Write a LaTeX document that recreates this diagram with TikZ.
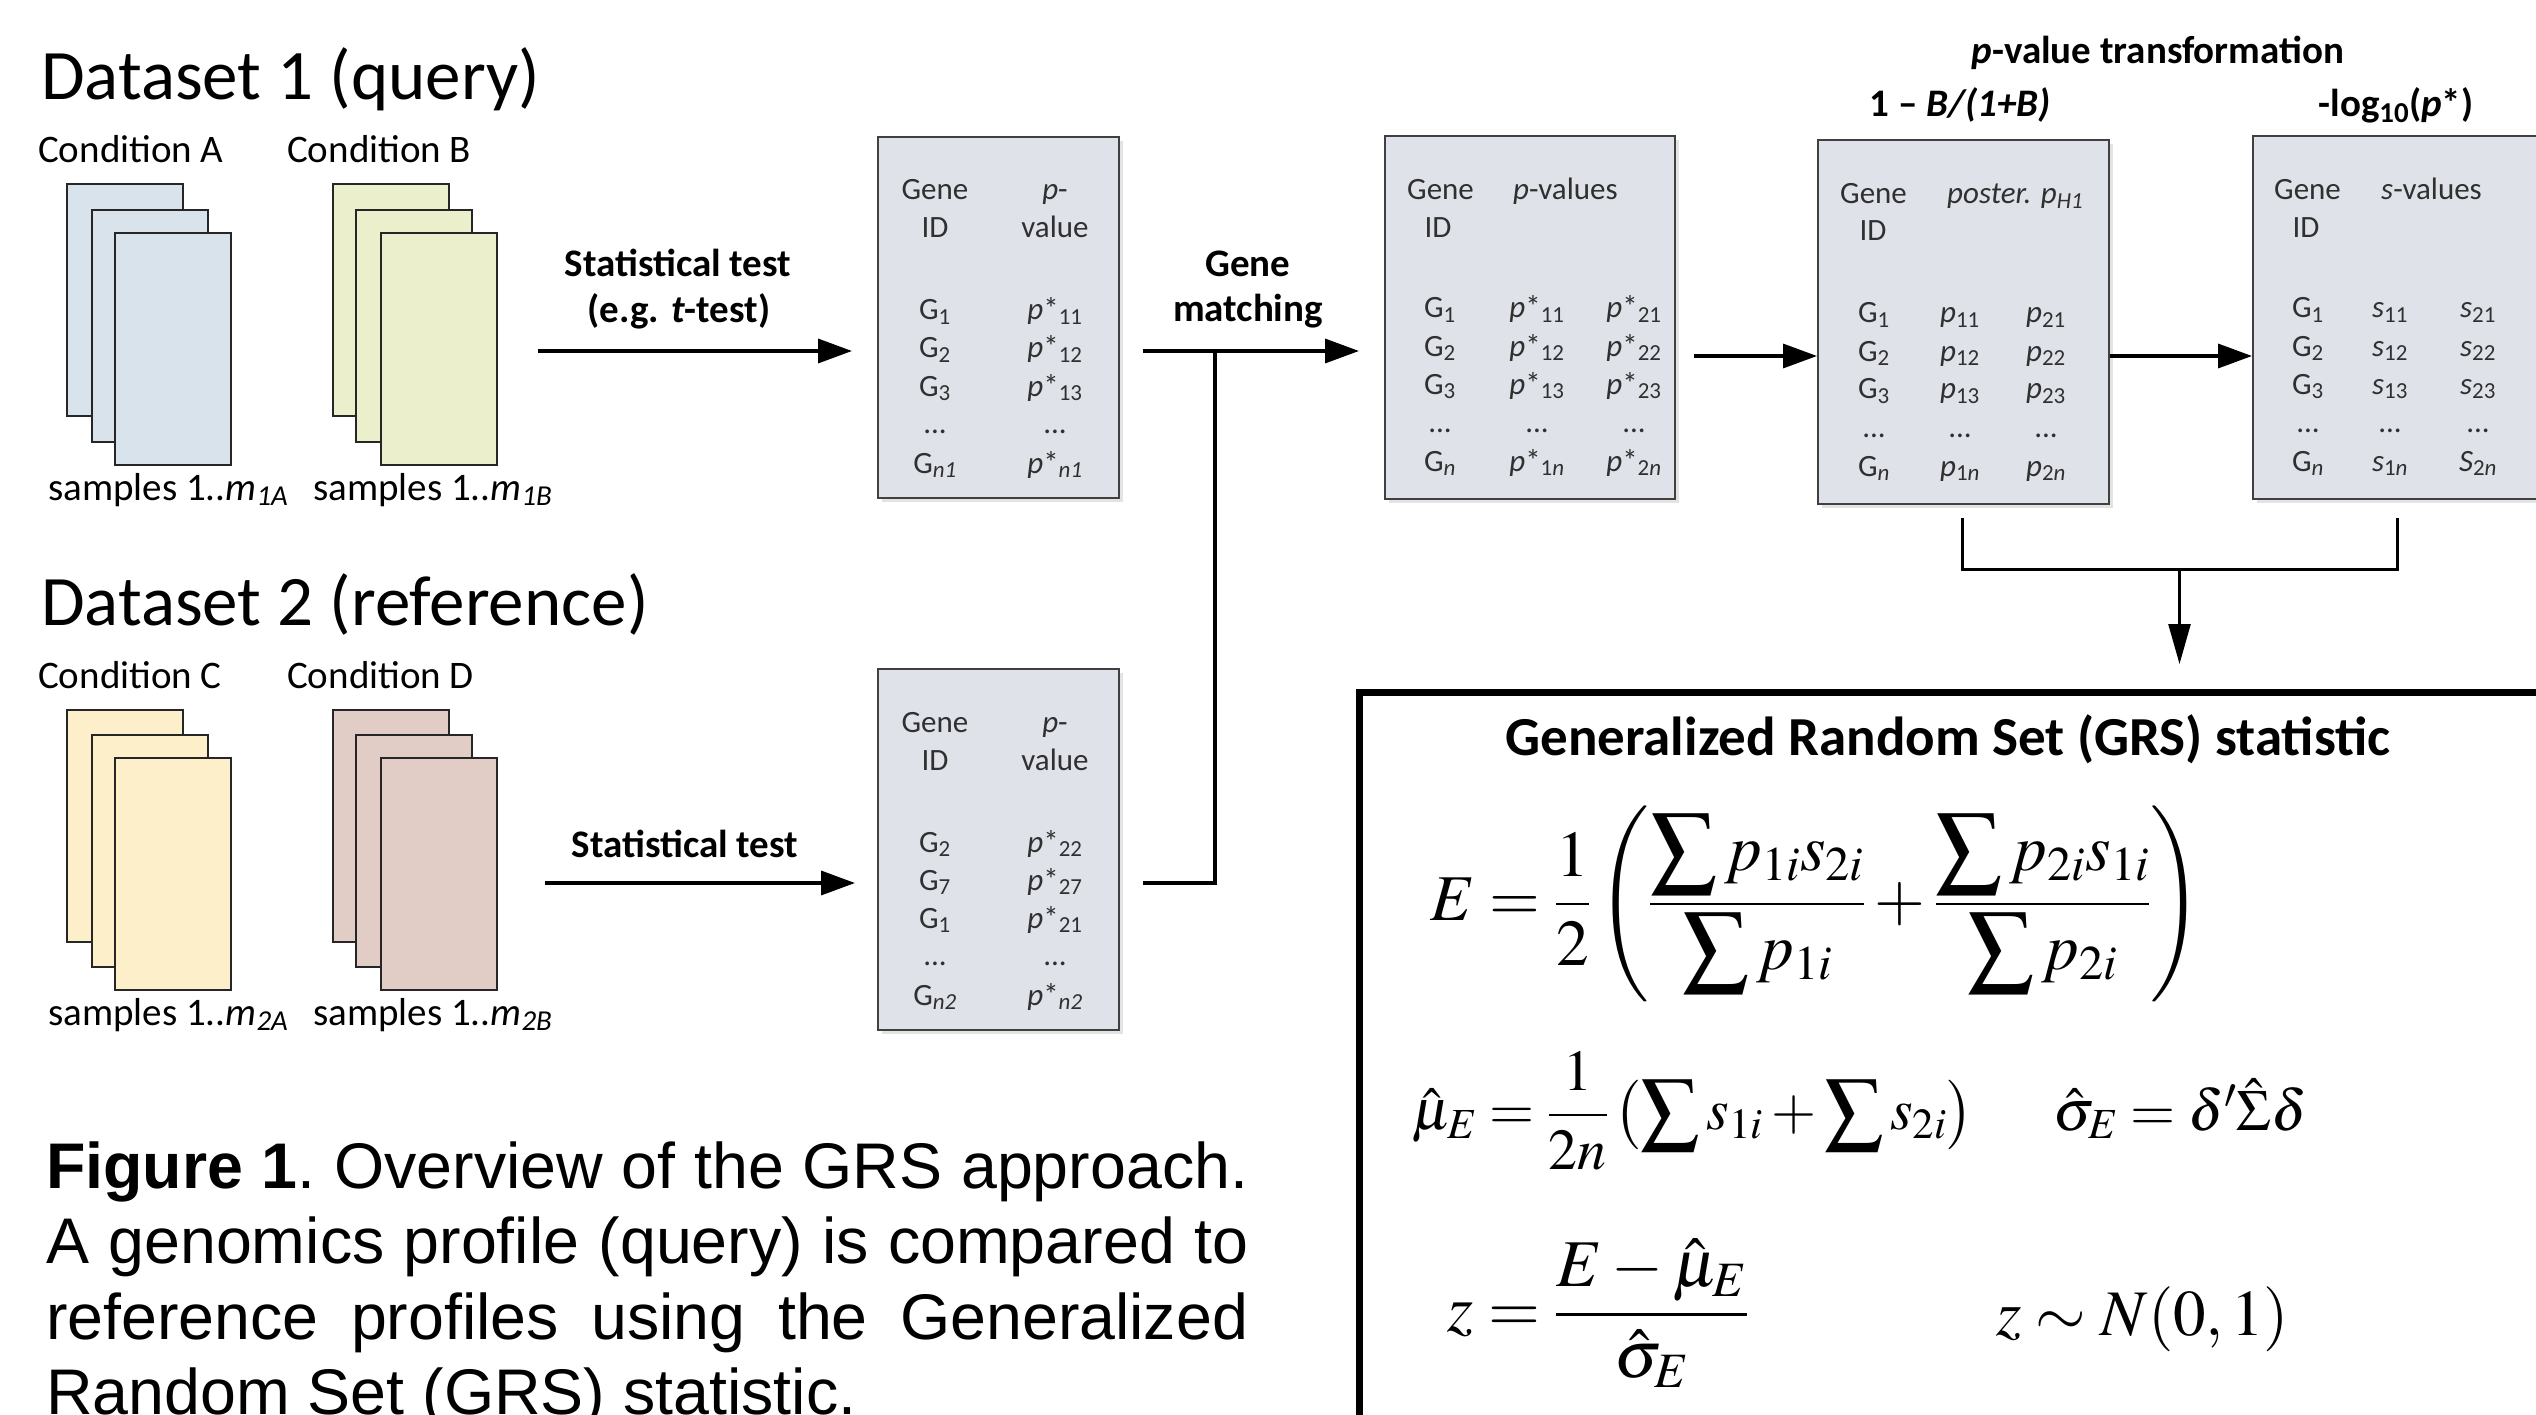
\documentclass[tikz,border=0pt]{standalone}
\usepackage{mathptmx}
\usepackage[no-math]{fontspec}
\setmainfont{Carlito}
\newfontfamily\capfont{Liberation Sans}
\usepackage{graphicx}
\usetikzlibrary{arrows.meta,shadows}

\definecolor{sheetA}{HTML}{D9E3EC}
\definecolor{sheetB}{HTML}{ECEFCB}
\definecolor{sheetC}{HTML}{FEEFCB}
\definecolor{sheetD}{HTML}{E2CDC6}
\definecolor{tblfill}{HTML}{DFE2E9}
\definecolor{tbltext}{HTML}{303030}

\newcommand{\fsz}[1]{\fontsize{#1}{#1}\selectfont}
\newcommand{\rowdots}{...}
\newcommand{\dsum}{\displaystyle\sum}

\tikzset{
  sheet/.style={draw=black!85, line width=2pt, anchor=north west, inner sep=0pt,
    minimum width=116pt, minimum height=232pt},
  tbl/.style={draw=black!75, line width=2pt, fill=tblfill, anchor=north west, inner sep=0pt,
    drop shadow={shadow xshift=4pt, shadow yshift=-4pt, opacity=0.22}},
  head/.style={anchor=base west, inner sep=0pt, font=\fsz{71}},
  cond/.style={anchor=base west, inner sep=0pt, font=\fsz{39}},
  lbl/.style={anchor=base, inner sep=0pt, font=\bfseries\fsz{39}},
  cell/.style={anchor=base, inner sep=0pt, text=tbltext, font=\fsz{31}},
  cellw/.style={cell, anchor=base west},
  flow/.style={line width=3.5pt, -{Triangle[length=34pt,width=24pt]}},
  link/.style={line width=3.5pt},
  brk/.style={line width=3pt},
  down/.style={line width=2.5pt, -{Triangle[length=40pt,width=22pt]}},
}

\begin{document}
\begin{tikzpicture}[x=1pt, y=-1pt]
\useasboundingbox (0,0) rectangle (2536,1415);

% ---------- Dataset 1 ----------
\node[head] (ds1) at (41,100) {Dataset 1 (query)};
\node[cond] (cA) at (38,163) {Condition A};
\node[cond] (cB) at (287,163) {Condition B};
\node[sheet, fill=sheetA] (A1) at (66,183) {};
\node[sheet, fill=sheetA] (A2) at (91,209) {};
\node[sheet, fill=sheetA] (A3) at (114,232) {};
\node[sheet, fill=sheetB] (B1) at (332,183) {};
\node[sheet, fill=sheetB] (B2) at (355,209) {};
\node[sheet, fill=sheetB] (B3) at (380,232) {};
\node[cond] (sA) at (48,500) {samples 1..\textit{m}\textsubscript{\textit{1A}}};
\node[cond] (sB) at (313,500) {samples 1..\textit{m}\textsubscript{\textit{1B}}};
\node[lbl] (st1) at (678,277) {Statistical test};
\node[lbl] (st1b) at (679,323) {(e.g. \textit{t}-test)};

% ---------- Dataset 2 ----------
\node[head] (ds2) at (41,625) {Dataset 2 (reference)};
\node[cond] (cC) at (38,688) {Condition C};
\node[cond] (cD) at (287,688) {Condition D};
\node[sheet, fill=sheetC] (C1) at (66,709) {};
\node[sheet, fill=sheetC] (C2) at (91,734) {};
\node[sheet, fill=sheetC] (C3) at (114,757) {};
\node[sheet, fill=sheetD] (D1) at (332,709) {};
\node[sheet, fill=sheetD] (D2) at (355,734) {};
\node[sheet, fill=sheetD] (D3) at (380,757) {};
\node[cond] (sC) at (48,1025) {samples 1..\textit{m}\textsubscript{\textit{2A}}};
\node[cond] (sD) at (313,1025) {samples 1..\textit{m}\textsubscript{\textit{2B}}};
\node[lbl] (st2) at (685,857) {Statistical test};

% ---------- tables ----------
\node[tbl, minimum width=241pt, minimum height=361pt] (T1) at (877,136) {};
\node[tbl, minimum width=241pt, minimum height=361pt] (T5) at (877,668) {};
\node[tbl, minimum width=290pt, minimum height=363pt] (T2) at (1384,135) {};
\node[tbl, minimum width=291pt, minimum height=364pt] (T3) at (1817,139) {};
\node[tbl, minimum width=292pt, minimum height=363pt] (T4) at (2252,135) {};

% query p-values
\node[cell] (t1h1) at (935,200) {Gene};
\node[cell] (t1h2) at (935,238) {ID};
\node[cell] (t1h3) at (1055,200) {\textit{p}-};
\node[cell] (t1h4) at (1055,238) {value};
\foreach \y/\g/\p [count=\i] in {320/G\textsubscript{1}/\textit{p}*\textsubscript{11},
    358/G\textsubscript{2}/\textit{p}*\textsubscript{12},
    396/G\textsubscript{3}/\textit{p}*\textsubscript{13},
    433/\rowdots/\rowdots,
    473/G\textsubscript{\textit{n1}}/\textit{p}*\textsubscript{\textit{n1}}}{
  \node[cell] (t1g\i) at (935,\y) {\g};
  \node[cell] (t1p\i) at (1055,\y) {\p};
}

% reference p-values
\node[cell] (t5h1) at (935,732) {Gene};
\node[cell] (t5h2) at (935,770) {ID};
\node[cell] (t5h3) at (1055,732) {\textit{p}-};
\node[cell] (t5h4) at (1055,770) {value};
\foreach \y/\g/\p [count=\i] in {852/G\textsubscript{2}/\textit{p}*\textsubscript{22},
    890/G\textsubscript{7}/\textit{p}*\textsubscript{27},
    928/G\textsubscript{1}/\textit{p}*\textsubscript{21},
    965/\rowdots/\rowdots,
    1005/G\textsubscript{\textit{n2}}/\textit{p}*\textsubscript{\textit{n2}}}{
  \node[cell] (t5g\i) at (935,\y) {\g};
  \node[cell] (t5p\i) at (1055,\y) {\p};
}

% matched p-values
\node[cellw] (t2h1) at (1407,200) {Gene};
\node[cell] (t2h2) at (1438,238) {ID};
\node[cellw] (t2h3) at (1513,200) {\textit{p}-values};
\foreach \y/\g/\p/\q [count=\i] in {318/G\textsubscript{1}/\textit{p}*\textsubscript{11}/\textit{p}*\textsubscript{21},
    356/G\textsubscript{2}/\textit{p}*\textsubscript{12}/\textit{p}*\textsubscript{22},
    394/G\textsubscript{3}/\textit{p}*\textsubscript{13}/\textit{p}*\textsubscript{23},
    432/\rowdots/\rowdots/\rowdots,
    471/G\textsubscript{\textit{n}}/\textit{p}*\textsubscript{1\textit{n}}/\textit{p}*\textsubscript{2\textit{n}}}{
  \node[cell] (t2g\i) at (1440,\y) {\g};
  \node[cell] (t2p\i) at (1537,\y) {\p};
  \node[cell] (t2q\i) at (1634,\y) {\q};
}

% posterior probabilities
\node[cellw] (t3h1) at (1840,204) {Gene};
\node[cell] (t3h2) at (1873,241) {ID};
\node[cellw] (t3h3) at (1947,204) {\textit{poster. p}\textsubscript{\textit{H1}}};
\foreach \y/\g/\p/\q [count=\i] in {323/G\textsubscript{1}/\textit{p}\textsubscript{11}/\textit{p}\textsubscript{21},
    361/G\textsubscript{2}/\textit{p}\textsubscript{12}/\textit{p}\textsubscript{22},
    399/G\textsubscript{3}/\textit{p}\textsubscript{13}/\textit{p}\textsubscript{23},
    437/\rowdots/\rowdots/\rowdots,
    476/G\textsubscript{\textit{n}}/\textit{p}\textsubscript{1\textit{n}}/\textit{p}\textsubscript{2\textit{n}}}{
  \node[cell] (t3g\i) at (1874,\y) {\g};
  \node[cell] (t3p\i) at (1960,\y) {\p};
  \node[cell] (t3q\i) at (2046,\y) {\q};
}

% s-values
\node[cellw] (t4h1) at (2274,200) {Gene};
\node[cell] (t4h2) at (2306,238) {ID};
\node[cellw] (t4h3) at (2381,200) {\textit{s}-values};
\foreach \y/\g/\p/\q [count=\i] in {318/G\textsubscript{1}/\textit{s}\textsubscript{11}/\textit{s}\textsubscript{21},
    356/G\textsubscript{2}/\textit{s}\textsubscript{12}/\textit{s}\textsubscript{22},
    394/G\textsubscript{3}/\textit{s}\textsubscript{13}/\textit{s}\textsubscript{23},
    432/\rowdots/\rowdots/\rowdots,
    471/G\textsubscript{\textit{n}}/\textit{s}\textsubscript{1\textit{n}}/\textit{S}\textsubscript{2\textit{n}}}{
  \node[cell] (t4g\i) at (2308,\y) {\g};
  \node[cell] (t4p\i) at (2390,\y) {\p};
  \node[cell] (t4q\i) at (2478,\y) {\q};
}

% ---------- labels above the transformation ----------
\node[lbl] (pvt) at (2158,64) {\textit{p}-value transformation};
\node[lbl] (bf) at (1960,117) {1 – \textit{B/(1+B)}};
\node[lbl] (lg) at (2396,117) {-log\textsubscript{10}(\textit{p}*)};
\node[lbl] (gm1) at (1248,277) {Gene};
\node[lbl] (gm2) at (1248,322) {matching};

% ---------- connectors ----------
\coordinate (a1) at (538,351);
\coordinate (a2) at (545,883);
\coordinate (gmA) at (1143,351);
\coordinate (gmB) at (1143,883);
\coordinate (gmJ) at (1215,351);
\coordinate (p1) at (1694,356);
\draw[flow, shorten >=25pt] (a1) -- (a1 -| T1.west);
\draw[flow, shorten >=22pt] (a2) -- (a2 -| T5.west);
\draw[flow, shorten >=25pt] (gmA) -- (gmA -| T2.west);
\draw[link] (gmB) -| (gmJ);
\draw[flow] (p1) -- (p1 -| T3.west);
\draw[flow] (T3.east |- p1) -- (T4.west |- p1);

% ---------- GRS box ----------
\node[draw, line width=7pt, anchor=north west, inner sep=0pt,
      minimum width=1300pt, minimum height=800pt] (GRS) at (1356,689) {};
\coordinate (bL) at (1962,518);
\coordinate (bR) at (2397,518);
\coordinate (bM) at (2179.5,569);
\draw[brk] (bL) -- (bL |- bM) -- (bR |- bM) -- (bR);
\draw[down, shorten >=25pt] (bM) -- (bM |- GRS.north);

\node[anchor=base, inner sep=0pt, font=\bfseries\fsz{55}] (grsT) at (1948,755)
  {Generalized Random Set (GRS) statistic};
\node[anchor=west, inner sep=0pt, font=\fsz{60}] (fE) at (1430,904)
  {\resizebox{772pt}{!}{$\displaystyle E=\frac{1}{2}\left(\frac{\dsum p_{1i}s_{2i}}{\dsum p_{1i}}+\frac{\dsum p_{2i}s_{1i}}{\dsum p_{2i}}\right)$}};
\node[anchor=west, inner sep=0pt, font=\fsz{60}] (fMu) at (1412,1111)
  {\resizebox{561pt}{!}{$\displaystyle \hat{\mu}_E=\frac{1}{2n}\left(\sum s_{1i}+\sum s_{2i}\right)$}};
\node[anchor=base west, inner sep=0pt, font=\fsz{58}] (fSig) at (2053,1130)
  {$\hat{\sigma}_E=\delta'\hat{\Sigma}\delta$};
\node[anchor=west, inner sep=0pt, font=\fsz{60}] (fZ) at (1447,1313)
  {\resizebox{301pt}{!}{$\displaystyle z=\frac{E-\hat{\mu}_E}{\hat{\sigma}_E}$}};
\node[anchor=base west, inner sep=0pt, font=\fsz{65}] (fN) at (1996,1335)
  {$z\sim N(0,1)$};

% ---------- caption ----------
\node[anchor=base west, inner sep=0pt, text width=1202pt, align=justify,
      font=\capfont\fontsize{64.5}{75.5}\selectfont\frenchspacing] (cap) at (46,1188)
  {\textbf{Figure 1}. Overview of the GRS approach.\linebreak
   A genomics profile (query) is compared to\linebreak
   reference profiles using the Generalized\linebreak
   Random Set (GRS) statistic.};
\end{tikzpicture}
\end{document}
